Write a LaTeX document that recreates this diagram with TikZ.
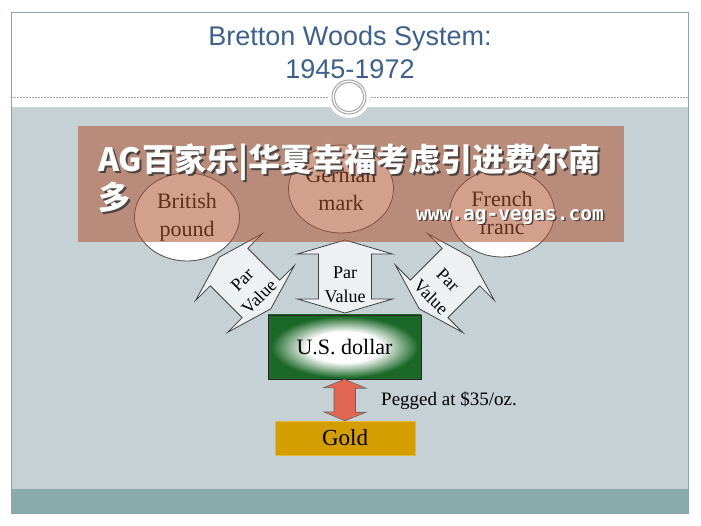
\documentclass[tikz,border=0pt]{standalone}
\usepackage{fontspec}
\setmainfont{Liberation Serif}
\newfontfamily\titlefont{Liberation Sans}
\newfontfamily\cjk{Noto Sans CJK SC}
\newfontfamily\urlfont{DejaVu Sans Mono}
\usepackage{tikz}
\usetikzlibrary{shapes.geometric,calc}
\definecolor{slidegray}{RGB}{198,209,214}
\definecolor{bandteal}{RGB}{138,171,171}
\definecolor{framegray}{RGB}{140,165,168}
\definecolor{titleblue}{RGB}{62,96,138}
\definecolor{usgreen}{RGB}{27,104,40}
\definecolor{goldfill}{RGB}{212,158,0}
\definecolor{goldedge}{RGB}{228,182,62}
\definecolor{pegred}{RGB}{224,102,82}
\definecolor{arrowfill}{RGB}{238,241,243}
\definecolor{bannerred}{RGB}{175,83,48}
\pgfdeclareradialshading{dollarglow}{\pgfpointorigin}{color(0bp)=(white); color(12bp)=(white); color(24bp)=(usgreen); color(50bp)=(usgreen)}
\newcommand{\pararrow}[3]{%
  \begin{scope}[shift={#2},rotate=#3]
  \draw[blockarr] (0,-36.5) -- (47.5,-22.5) -- (26.5,-22.5) -- (26.5,22.5) -- (47.5,22.5) -- (0,36.5)
    -- (-47.5,22.5) -- (-26.5,22.5) -- (-26.5,-22.5) -- (-47.5,-22.5) -- cycle;
  \node[parlab,rotate=#3] (#1) at (0,8) {Par\\Value};
  \end{scope}}

\begin{document}
\begin{tikzpicture}[x=1pt,y=-1pt]
\tikzset{cur/.style={ellipse,draw=black!70,fill=white,line width=0.8pt,minimum width=105,minimum height=88,inner sep=0pt,align=center,font=\fontsize{22}{28}\selectfont},
  blockarr/.style={draw=black!75,fill=arrowfill,line width=0.8pt},
  parlab/.style={align=center,inner sep=0pt,font=\fontsize{18}{24}\selectfont},
  pegarr/.style={draw=black!60,fill=pegred,line width=0.6pt},
  adtext/.style={anchor=north west,inner sep=0pt,align=left,font=\cjk\bfseries\fontsize{32}{33}\selectfont},
  urltext/.style={inner sep=0pt,font=\urlfont\bfseries\fontsize{19.5}{20}\selectfont}}
\useasboundingbox (0,0) rectangle (701,526);
\fill[white] (0,0) rectangle (701,526);
\fill[slidegray] (11,107) rectangle (688,489);
\fill[bandteal] (11,489) rectangle (688,513);
\draw[framegray,line width=0.8pt] (11,12) rectangle (688,513);
\node[text=titleblue,align=center,font=\titlefont\fontsize{27}{33}\selectfont] (title) at (350,52) {Bretton Woods System:\\1945-1972};
\draw[black!35,dash pattern=on 2pt off 1pt] (11,97) -- (688,97);
\fill[white] (349,97) circle (21);
\draw[black!35,line width=1pt] (349,97) circle (17) (349,97) circle (14.5);
\node[cur] (gbp) at (187,217) {British\\pound};
\node[cur] (dem) at (341,189) {German\\mark};
\node[cur] (frf) at (502,213) {French\\franc};
\pararrow{pvleft}{(245,283)}{45}
\pararrow{pvmid}{(345,276.5)}{0}
\pararrow{pvright}{(445,283)}{-45}
\node[draw=black!85,shading=dollarglow,minimum width=153,minimum height=64,font=\fontsize{22}{26}\selectfont] (usd) at (344.5,347) {U.S. dollar};
\node[fill=goldfill,draw=goldedge,minimum width=140,minimum height=34,font=\fontsize{23}{26}\selectfont] (gold) at (345,438) {Gold};
\draw[pegarr] (usd.south) -- ++(21.5,9) -- ++(-10.5,0) -- ++(0,24) -- ++(10.5,0) -- (gold.north)
  -- ++(-21.5,-9) -- ++(10.5,0) -- ++(0,-24) -- ++(-10.5,0) -- cycle;
\node[anchor=west,inner sep=0pt,font=\fontsize{19}{22}\selectfont] (peg) at (381,401) {Pegged at \$35/oz.};
\fill[bannerred,fill opacity=0.55] (78,126) rectangle (624,242);
\node[adtext,text=black!80,opacity=0.8] (adshadow) at (100,146) {AG百家乐|华夏幸福考虑引进费尔南\\多};
\node[adtext,text=white] (ad) at (98,144) {AG百家乐|华夏幸福考虑引进费尔南\\多};
\node[urltext,text=black!80,opacity=0.8] (urlshadow) at (511.5,218.5) {www.ag-vegas.com};
\node[urltext,text=white] (url) at (510,217) {www.ag-vegas.com};
\end{tikzpicture}
\end{document}
